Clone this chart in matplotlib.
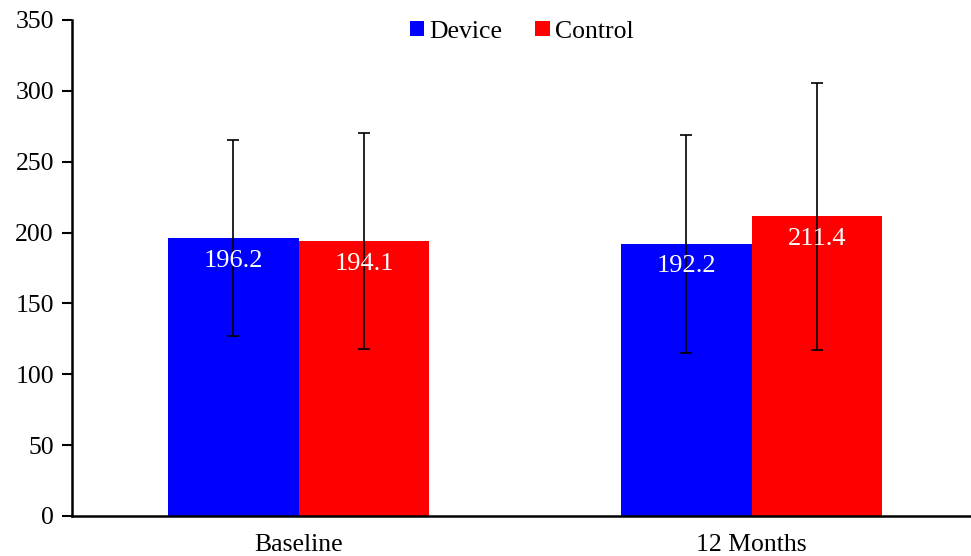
import matplotlib
matplotlib.use("Agg")
import matplotlib.pyplot as plt
import numpy as np

categories = ["Baseline", "12 Months"]
device = [196.2, 192.2]
control = [194.1, 211.4]
device_err = [69.4, 77.0]
control_err = [76.1, 94.0]

plt.rcParams['font.family'] = ['Liberation Serif', 'DejaVu Serif']

fig = plt.figure(figsize=(9.71, 5.56), dpi=100)
ax = fig.add_axes([72 / 971, 40 / 556, 899 / 971, 496 / 556])

x = np.arange(len(categories))
w = 0.289
eb = dict(ecolor='black', elinewidth=1.2, capsize=4, capthick=1.2)
b1 = ax.bar(x - w / 2, device, w, color='#0000ff', yerr=device_err,
            error_kw=eb, label='Device')
b2 = ax.bar(x + w / 2, control, w, color='#ff0000', yerr=control_err,
            error_kw=eb, label='Control')

for bars, vals in [(b1, device), (b2, control)]:
    for r, v in zip(bars, vals):
        ax.text(r.get_x() + r.get_width() / 2, v - 16, f"{v:.1f}",
                ha='center', va='center', color='white', fontsize=19)

ax.set_xlim(-0.5, (971 - 72) / 453 - 0.5)
ax.set_ylim(0, 350)
ax.set_yticks(range(0, 351, 50))
ax.set_xticks(x)
ax.set_xticklabels(categories)
ax.tick_params(axis='y', labelsize=18.5, length=7, width=1.5, direction='out', pad=6)
ax.tick_params(axis='x', labelsize=18.5, length=0, pad=13)
ax.spines['top'].set_visible(False)
ax.spines['right'].set_visible(False)
ax.spines['left'].set_linewidth(1.8)
ax.spines['bottom'].set_linewidth(1.8)

ax.legend(loc='upper center', bbox_to_anchor=(0.5, 1.045),
          ncol=2, frameon=False, fontsize=18.5, handlelength=0.55, handleheight=0.55,
          handletextpad=0.2, columnspacing=1.3)

fig.savefig("out.png", dpi=100)
